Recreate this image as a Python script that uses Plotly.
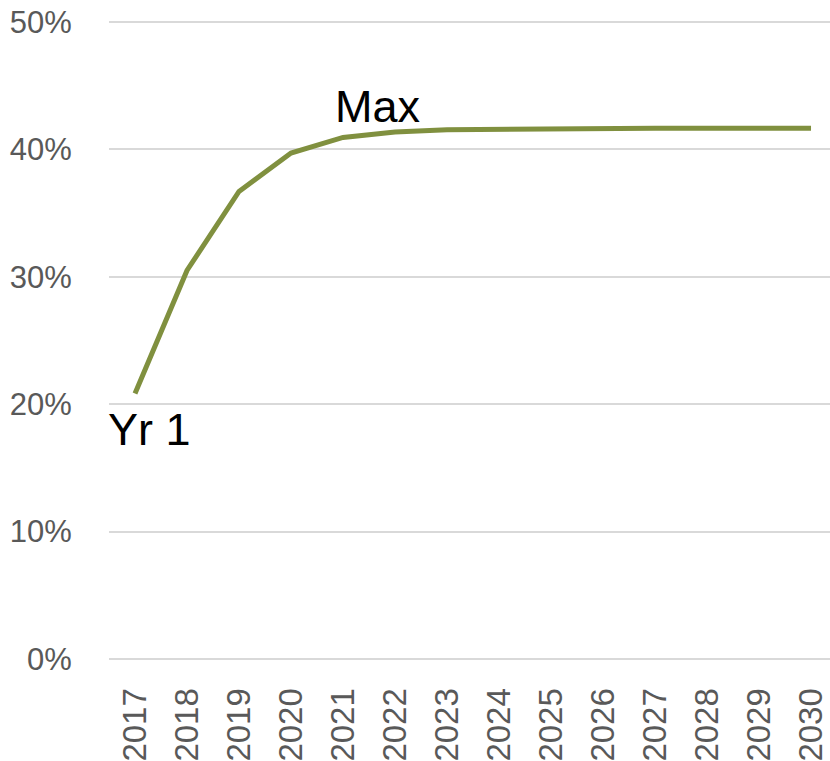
import plotly.graph_objects as go

years = [2017, 2018, 2019, 2020, 2021, 2022, 2023, 2024, 2025, 2026, 2027, 2028, 2029, 2030]
share = [0.2084, 0.305, 0.367, 0.3972, 0.4094, 0.4137, 0.4155, 0.4160, 0.4165, 0.4167, 0.4167, 0.4167, 0.4167, 0.4167]
y_ticks = [0, 0.1, 0.2, 0.3, 0.4, 0.5]
y_tick_text = ["0%", "10%", "20%", "30%", "40%", "50%"]

fig = go.Figure()
fig.add_trace(go.Scatter(
    x=years, y=share, mode="lines",
    line=dict(color="#80903f", width=5),
    hoverinfo="skip", showlegend=False,
))

fig.add_annotation(x=2021.67, y=0.434, text="Max", showarrow=False,
                   font=dict(family="Liberation Sans, Arial", size=45, color="#000000"),
                   xanchor="center", yanchor="middle")
fig.add_annotation(x=2017.27, y=0.18, text="Yr 1", showarrow=False,
                   font=dict(family="Liberation Sans, Arial", size=45, color="#000000"),
                   xanchor="center", yanchor="middle")

fig.update_layout(
    width=830, height=761,
    margin=dict(l=109, r=0, t=21, b=101),
    paper_bgcolor="white", plot_bgcolor="white",
    font=dict(family="Liberation Sans, Arial", size=31, color="#595959"),
)
fig.update_xaxes(
    range=[2016.5, 2030.365],
    tickmode="array", tickvals=years, ticktext=[str(y) for y in years],
    tickangle=-90, tickfont=dict(size=33),
    showgrid=False, zeroline=False, showline=False,
    ticks="outside", ticklen=14, tickcolor="rgba(0,0,0,0)",
)
fig.update_yaxes(
    range=[-0.0008, 0.5008],
    tickmode="array", tickvals=y_ticks, ticktext=y_tick_text,
    showgrid=True, gridcolor="#d9d9d9", gridwidth=1.5,
    zeroline=False, showline=False, ticks="outside", ticklen=30, tickcolor="rgba(0,0,0,0)",
)

fig.write_html("out.html")
